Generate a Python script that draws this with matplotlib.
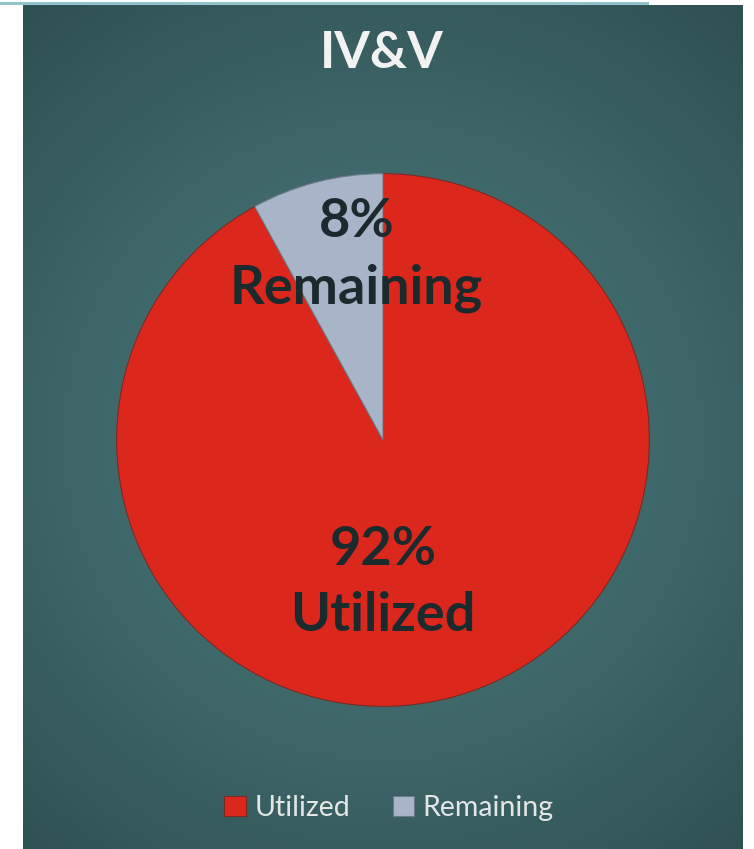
import numpy as np
import matplotlib
matplotlib.use("Agg")
import matplotlib.pyplot as plt
from matplotlib.lines import Line2D

# chart data
title = "IV&V"
categories = ["Utilized", "Remaining"]
shares = [92, 8]
slice_colors = ["#dc281c", "#a8b5c9"]

plt.rcParams['font.family'] = ['Lato', 'DejaVu Sans']

W, H = 754, 849
fig = plt.figure(figsize=(W / 100, H / 100), dpi=100)
fig.patch.set_facecolor("white")

# thin rule across the top
fig.add_artist(Line2D([0, 647 / W], [1 - 2.5 / H, 1 - 2.5 / H], color="#92c3c8", lw=2.2))

# panel with a radial gradient
bg = fig.add_axes([23 / W, 0, 720 / W, 844 / H])
bg.set_axis_off()
nx, ny = 360, 422
xx, yy = np.meshgrid(np.linspace(0, 720, nx), np.linspace(0, 844, ny))
cx, cy = 360, 435
d = np.sqrt((xx - cx) ** 2 + (yy - cy) ** 2) / 560.0
d = np.clip(d, 0, 1)
inner = np.array([0x50, 0x80, 0x83]) / 255
outer = np.array([0x2f, 0x50, 0x53]) / 255
img = inner[None, None, :] * (1 - d[..., None]) + outer[None, None, :] * d[..., None]
bg.imshow(img, extent=[0, 720, 844, 0], aspect="auto")
bg.set_xlim(0, 720)
bg.set_ylim(844, 0)

fig.text(382 / W, 1 - 53 / H, title, ha="center", va="center",
         fontsize=37, fontweight="bold", color="#f2f2f2")

# pie
R = 269
ax = fig.add_axes([(383 - R) / W, (H - 440 - R) / H, 2 * R / W, 2 * R / H])
wedges, _ = ax.pie(shares, colors=slice_colors, startangle=90, counterclock=False,
                   radius=1.0, wedgeprops=dict(edgecolor="#7a2a22", linewidth=0.8))
wedges[1].set_edgecolor("#6f7c88")
ax.set_xlim(-1.01, 1.01)
ax.set_ylim(-1.01, 1.01)
ax.set_axis_off()

label_pos = [(0.0, -0.535), (-0.10, 0.695)]
for cat, val, (lx, ly) in zip(categories, shares, label_pos):
    ax.text(lx, ly, f"{val}%\n{cat}", ha="center", va="center",
            fontsize=39, fontweight="bold", color="#1b2a2d", linespacing=1.42)

leg = fig.legend(wedges, categories, loc="center", ncol=2, frameon=False,
                 bbox_to_anchor=(389 / W, 1 - 808 / H), fontsize=20.5,
                 handlelength=0.75, handleheight=0.75, handletextpad=0.3,
                 columnspacing=1.5)
for t in leg.get_texts():
    t.set_color("#e4e6e6")

fig.savefig("out.png", dpi=100)
